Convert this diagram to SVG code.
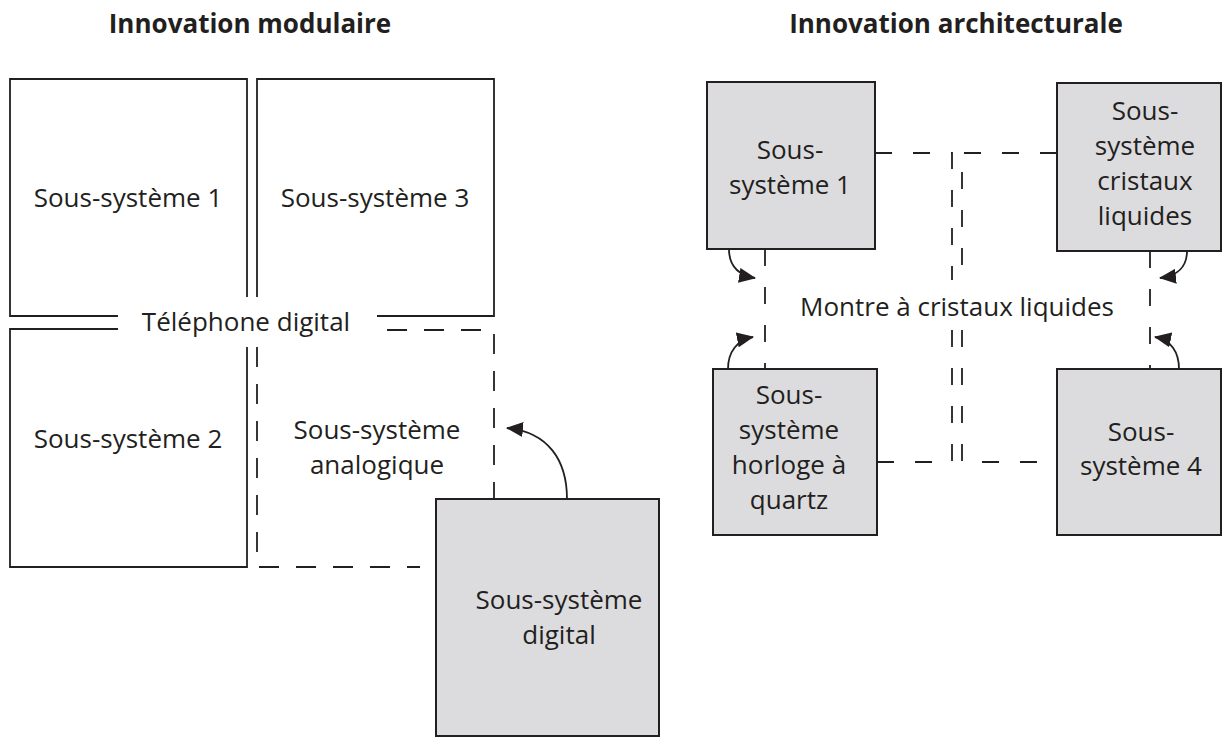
<svg xmlns="http://www.w3.org/2000/svg" width="1223" height="737" viewBox="0 0 1223 737">
  <style>
    .t { font-family: "Open Sans", "Noto Sans", "Liberation Sans", sans-serif; font-size: 26px; fill: #231f20; text-anchor: middle; }
    .h { font-family: "Open Sans", "Noto Sans", "Liberation Sans", sans-serif; font-size: 26px; font-weight: bold; fill: #231f20; text-anchor: middle; }
    .ln { fill: none; stroke: #231f20; stroke-width: 1.8; }
    .dl { fill: none; stroke: #231f20; stroke-width: 1.8; stroke-dasharray: 20 17; }
    .dr { fill: none; stroke: #231f20; stroke-width: 1.8; stroke-dasharray: 17 21; }
    .box { fill: #dcdcde; stroke: #231f20; stroke-width: 2; }
    .arc { fill: none; stroke: #231f20; stroke-width: 1.8; }
  </style>
  <defs>
    <marker id="ah" markerWidth="17" markerHeight="15" viewBox="0 0 17 15" refX="16" refY="7.5" orient="auto" markerUnits="userSpaceOnUse">
      <path d="M0,0 L17,7.5 L0,15 z" fill="#231f20"/>
    </marker>
  </defs>
  <rect width="1223" height="737" fill="#ffffff"/>

  <!-- headings -->
  <text class="h" x="250" y="33">Innovation modulaire</text>
  <text class="h" x="956" y="33">Innovation architecturale</text>

  <!-- modular innovation: digital phone -->
  <g id="ss1-left">
    <path class="ln" d="M247,297 L247,79 L10,79 L10,316 L118,316"/>
    <text class="t" x="128" y="207">Sous-système 1</text>
  </g>
  <g id="ss3-left">
    <path class="ln" d="M257,297 L257,79 L494,79 L494,316 L377,316"/>
    <text class="t" x="375" y="207">Sous-système 3</text>
  </g>
  <g id="ss2-left">
    <path class="ln" d="M118,329 L10,329 L10,567 L247,567 L247,347"/>
    <text class="t" x="128" y="448">Sous-système 2</text>
  </g>
  <g id="phone-label">
    <text class="t" x="246" y="331">Téléphone digital</text>
  </g>
  <g id="ss-analog">
    <path class="dl" d="M387,330 L494,330 L494,499"/>
    <path class="dl" d="M257,347 L257,567 L420,567"/>
    <text class="t" x="377" y="439">Sous-système</text>
    <text class="t" x="377" y="474">analogique</text>
  </g>
  <g id="ss-digital">
    <rect class="box" x="436" y="499" width="223" height="237"/>
    <text class="t" x="559" y="609">Sous-système</text>
    <text class="t" x="559" y="644">digital</text>
  </g>

  <!-- architectural innovation: LCD watch -->
  <g id="ss1-right">
    <rect class="box" x="707" y="82" width="168" height="167"/>
    <text class="t" x="790" y="159">Sous-</text>
    <text class="t" x="790" y="194">système 1</text>
  </g>
  <g id="ss-lcd">
    <rect class="box" x="1057" y="83" width="164" height="168"/>
    <text class="t" x="1145" y="120">Sous-</text>
    <text class="t" x="1145" y="155">système</text>
    <text class="t" x="1145" y="190">cristaux</text>
    <text class="t" x="1145" y="225">liquides</text>
  </g>
  <g id="ss-quartz">
    <rect class="box" x="713" y="369" width="164" height="166"/>
    <text class="t" x="789" y="404">Sous-</text>
    <text class="t" x="789" y="439">système</text>
    <text class="t" x="789" y="474">horloge à</text>
    <text class="t" x="789" y="509">quartz</text>
  </g>
  <g id="ss4-right">
    <rect class="box" x="1057" y="369" width="164" height="166"/>
    <text class="t" x="1141" y="441">Sous-</text>
    <text class="t" x="1141" y="475">système 4</text>
  </g>
  <g id="watch-label">
    <text class="t" x="957" y="316">Montre à cristaux liquides</text>
  </g>

  <g id="connectors">
    <!-- watch boundary -->
    <path class="dr" d="M875,153 L952,153 L952,280"/>
    <path class="dr" d="M952,330 L952,462 L877,462"/>
    <path class="dr" d="M1057,153 L962,153 L962,280"/>
    <path class="dr" d="M962,330 L962,462 L1057,462"/>
    <path class="dr" d="M765,249 L765,369"/>
    <path class="dr" d="M1150,251 L1150,369"/>
    <!-- substitution arrows -->
    <path class="arc" d="M567,499 C567,460 548,432 507,428" marker-end="url(#ah)"/>
    <path class="arc" d="M729,249 C729,264 737,275 755,278" marker-end="url(#ah)"/>
    <path class="arc" d="M1187,251 C1187,266 1178,276 1160,278" marker-end="url(#ah)"/>
    <path class="arc" d="M728,369 C728,352 737,340 753,337" marker-end="url(#ah)"/>
    <path class="arc" d="M1179,369 C1179,352 1171,340 1155,337" marker-end="url(#ah)"/>
  </g>
</svg>
